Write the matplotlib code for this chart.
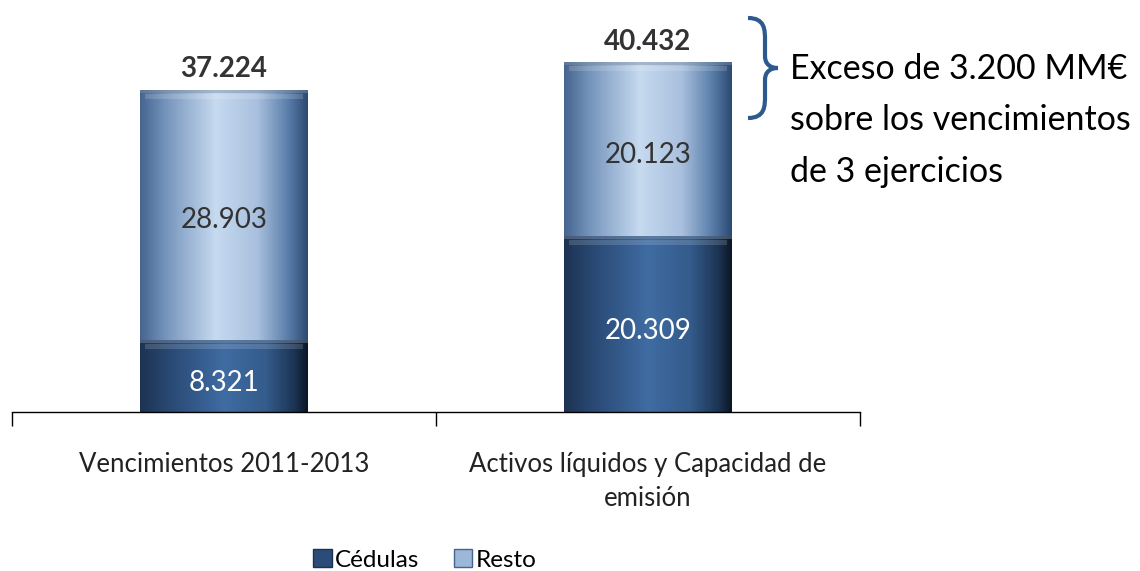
import numpy as np
import matplotlib.pyplot as plt
from matplotlib.colors import LinearSegmentedColormap
from matplotlib.patches import Patch, Rectangle, PathPatch
from matplotlib.path import Path

plt.rcParams['font.family'] = ['Lato', 'DejaVu Sans']

categorias = ['Vencimientos 2011-2013', 'Activos líquidos y Capacidad de\nemisión']
cedulas = [8.321, 20.309]
resto = [28.903, 20.123]
etiq_cedulas = ['8.321', '20.309']
etiq_resto = ['28.903', '20.123']
etiq_total = ['37.224', '40.432']

cmap_ced = LinearSegmentedColormap.from_list('ced', [
    (0.0, '#1d3352'), (0.2, '#2b4c78'), (0.5, '#3f6ca2'),
    (0.75, '#345c8c'), (0.92, '#1c3454'), (1.0, '#0b1625')])
cmap_res = LinearSegmentedColormap.from_list('res', [
    (0.0, '#45648f'), (0.15, '#7594bb'), (0.45, '#c6daf0'),
    (0.7, '#a9c0de'), (0.88, '#5b7fab'), (1.0, '#2c4a72')])

fig = plt.figure(figsize=(11.4, 5.71), dpi=100)
ax = fig.add_axes([12 / 1140, 1 - 412 / 571, 848 / 1140, 389 / 571])
ax.set_xlim(-0.5, 1.5)
ax.set_ylim(0, 45)

grad = np.linspace(0, 1, 256).reshape(1, -1)
ancho = 0.395


def barra(x, y0, alto, cmap):
    ax.imshow(grad, cmap=cmap, aspect='auto', interpolation='bilinear',
              extent=[x - ancho / 2, x + ancho / 2, y0, y0 + alto], zorder=2)
    # bisel superior
    ax.add_patch(Rectangle((x - ancho / 2 + 0.012, y0 + alto - 1.0), ancho - 0.024, 0.6,
                           facecolor='white', alpha=0.15, lw=0, zorder=3))
    ax.add_patch(Rectangle((x - ancho / 2, y0 + alto - 0.3), ancho, 0.3,
                           facecolor='#7f8ea3', alpha=0.45, lw=0, zorder=3))


for i in range(len(categorias)):
    barra(i, 0, cedulas[i], cmap_ced)
    barra(i, cedulas[i], resto[i], cmap_res)
    ax.text(i, cedulas[i] / 2 - 0.8, etiq_cedulas[i], ha='center', va='center',
            fontsize=20, color='white', zorder=4)
    ax.text(i, cedulas[i] + resto[i] / 2 - 0.6, etiq_resto[i], ha='center', va='center',
            fontsize=20, color='#333333', zorder=4)
    ax.text(i, cedulas[i] + resto[i] + 2.4, etiq_total[i], ha='center', va='center',
            fontsize=20, fontweight='bold', color='#333333', zorder=4)

for s in ['top', 'right', 'left']:
    ax.spines[s].set_visible(False)
ax.spines['bottom'].set_linewidth(1.0)
ax.set_yticks([])
ax.set_xticks([-0.5, 0.5, 1.5])
ax.set_xticklabels([])
ax.tick_params(axis='x', direction='out', length=10, width=1.0)
ax.set_xticks([0, 1], minor=True)
ax.set_xticklabels(categorias, minor=True, fontsize=18.5, color='#222222',
                   linespacing=1.45, va='top')
ax.tick_params(axis='x', which='minor', length=0, pad=29)

# llave
verts = [(748, 18), (765, 18), (765, 30), (765, 40),
         (765, 56),
         (765, 64), (770, 68), (778, 68),
         (770, 68), (765, 72), (765, 80),
         (765, 96),
         (765, 106), (765, 118), (748, 118)]
codes = [Path.MOVETO, Path.CURVE4, Path.CURVE4, Path.CURVE4,
         Path.LINETO,
         Path.CURVE4, Path.CURVE4, Path.CURVE4,
         Path.CURVE4, Path.CURVE4, Path.CURVE4,
         Path.LINETO,
         Path.CURVE4, Path.CURVE4, Path.CURVE4]
verts = [(x / 1140, 1 - y / 571) for x, y in verts]
fig.patches.append(PathPatch(Path(verts, codes), transform=fig.transFigure,
                             facecolor='none', edgecolor='#2d5a8e', lw=3))

fig.text(790 / 1140, 1 - 53 / 571,
         'Exceso de 3.200 MM€\nsobre los vencimientos\nde 3 ejercicios',
         ha='left', va='top', fontsize=24.5, color='black', linespacing=1.75)

handles = [Patch(facecolor='#2b4c78', edgecolor='#1d3352'),
           Patch(facecolor='#9db7d8', edgecolor='#45648f')]
fig.legend(handles, ['Cédulas', 'Resto'], loc='center', bbox_to_anchor=(425 / 1140, 1 - 560 / 571),
           ncol=2, frameon=False, fontsize=17.5, handlelength=0.75, handleheight=0.75,
           handletextpad=0.15, columnspacing=1.4, borderpad=0.1)

fig.savefig('out.png', dpi=100)
